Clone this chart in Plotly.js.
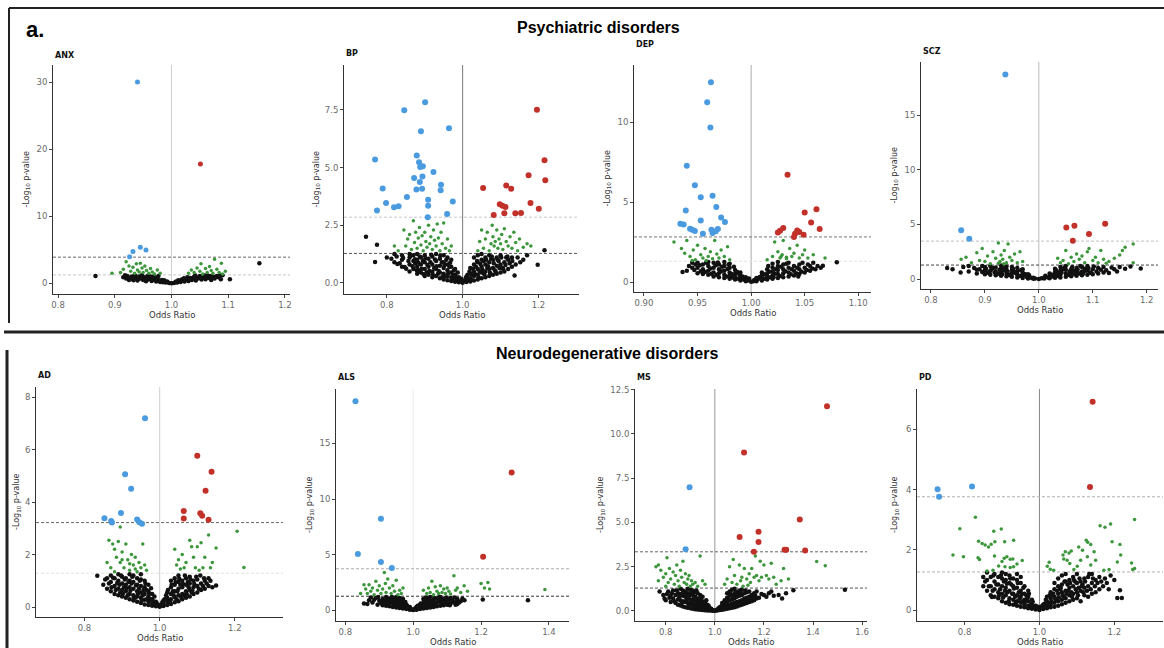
<!DOCTYPE html>
<html><head><meta charset="utf-8">
<script src="https://cdn.plot.ly/plotly-3.0.1.min.js"></script>
<style>html,body{margin:0;padding:0;background:#fff}#chart{width:1164px;height:648px}</style>
</head><body><div id="chart"></div>
<script>
// ---------------- DATA (odds ratio, -log10 p) ----------------
const panelNames = ['ANX','BP','DEP','SCZ','AD','ALS','MS','PD'];
const sectionTitles = ['Psychiatric disorders','Neurodegenerative disorders'];

// ANX
const anxBlue = [[0.94,30.05],[0.926,3.98],[0.932,4.73],[0.945,5.37],[0.955,4.98]];
const anxRed = [[1.051,17.8]];
const anxGreen = [[0.91,1.6],[0.915,2.1],[0.92,3.2],[0.925,2.6],[0.928,1.8],[0.932,2.4],[0.935,1.5],[0.938,2.9],[0.94,2.0],[0.943,1.7],[0.945,3.0],[0.948,2.3],[0.95,1.6],[0.953,2.6],[0.956,1.9],[0.96,1.5],[0.963,2.2],[0.966,1.7],[0.97,1.4],[0.975,2.0],[0.98,1.5],[0.895,1.5],
 [1.03,1.5],[1.035,2.0],[1.04,1.6],[1.045,2.3],[1.05,1.8],[1.052,2.9],[1.055,1.4],[1.06,2.2],[1.063,1.6],[1.067,2.5],[1.07,1.9],[1.073,1.5],[1.076,3.6],[1.08,2.1],[1.084,1.6],[1.088,3.0],[1.09,1.4],[1.095,1.8]];
const anxBlack = [[0.915,0.9],[0.92,0.7],[0.922,1.1],[0.925,0.5],[0.93,1.0],[0.932,0.6],[0.935,1.2],[0.938,0.8],[0.94,0.4],[0.943,1.0],[0.946,0.7],[0.948,1.2],[0.95,0.5],[0.953,0.9],[0.955,0.3],[0.958,1.1],[0.96,0.6],[0.963,0.8],[0.965,0.35],[0.968,1.0],[0.97,0.5],[0.973,0.25],[0.975,0.7],[0.978,0.4],[0.98,0.2],[0.983,0.5],[0.985,0.15],[0.988,0.3],[0.99,0.1],[0.993,0.2],[0.996,0.05],[1.0,0.02],[1.004,0.06],[1.007,0.15],[1.01,0.1],[1.013,0.3],[1.016,0.2],[1.02,0.4],[1.023,0.25],[1.026,0.6],[1.03,0.35],[1.033,0.8],[1.036,0.5],[1.04,1.0],[1.043,0.4],[1.046,0.7],[1.05,1.1],[1.053,0.55],[1.056,0.9],[1.06,0.6],[1.063,1.2],[1.066,0.8],[1.07,0.5],[1.073,1.0],[1.076,0.7],[1.08,1.1],[1.083,0.9],[1.087,0.6],[1.09,1.2],[0.866,1.1],[1.103,0.6],[1.155,3.0],
 [0.918,1.2],[0.928,0.85],[0.933,0.45],[0.937,1.05],[0.942,0.65],[0.947,0.95],[0.951,0.8],[0.957,0.55],[0.962,1.05],[0.967,0.6],[0.972,0.85],[0.977,1.1],[0.982,0.35],[0.987,0.45],[0.992,0.25],[1.008,0.25],[1.012,0.45],[1.018,0.55],[1.022,0.75],[1.028,0.9],[1.032,0.55],[1.038,0.75],[1.042,1.15],[1.048,0.9],[1.052,0.7],[1.058,1.15],[1.062,0.8],[1.068,1.1],[1.072,0.75],[1.078,0.95],[1.085,1.15]];
const anxXTicks = [0.8,0.9,1.0,1.1,1.2];
const anxYTicks = [0,10,20,30];

// BP
const bpBlue = [[0.901,7.83],[0.846,7.49],[0.890,6.58],[0.964,6.71],[0.769,5.35],[0.879,5.53],[0.885,5.23],[0.888,5.03],[0.895,5.06],[0.923,4.81],[0.872,4.55],[0.894,4.62],[0.887,4.38],[0.943,4.26],[0.789,4.10],[0.878,4.05],[0.893,4.08],[0.942,4.02],[0.853,3.73],[0.798,3.47],[0.819,3.28],[0.831,3.32],[0.909,3.61],[0.909,3.35],[0.974,3.53],[0.774,3.14],[0.959,2.99],[0.908,2.85]];
const bpRed = [[1.196,7.51],[1.216,5.32],[1.218,4.45],[1.174,4.67],[1.054,4.12],[1.115,4.22],[1.128,4.08],[1.098,3.41],[1.105,3.35],[1.113,3.29],[1.179,3.47],[1.201,3.22],[1.082,2.95],[1.110,3.02],[1.139,3.02],[1.154,3.03]];
const bpGreen = [[0.845,2.3],[0.85,1.6],[0.855,1.9],[0.86,2.1],[0.865,1.45],[0.87,2.7],[0.873,1.75],[0.876,2.2],[0.88,1.5],[0.883,1.95],[0.886,2.4],[0.89,1.65],[0.893,2.05],[0.896,1.4],[0.9,2.2],[0.903,1.8],[0.906,1.55],[0.91,2.5],[0.913,1.7],[0.916,2.0],[0.92,1.45],[0.923,2.3],[0.926,1.85],[0.93,1.6],[0.933,2.55],[0.936,1.95],[0.94,1.4],[0.943,2.2],[0.946,1.7],[0.95,2.6],[0.955,1.5],[0.96,1.9],[0.965,1.4],[0.97,1.6],[0.82,1.6],[0.83,1.4],
 [1.05,2.3],[1.055,1.5],[1.06,1.9],[1.065,2.2],[1.07,1.4],[1.075,1.7],[1.078,2.5],[1.08,2.0],[1.083,1.6],[1.086,1.8],[1.09,2.3],[1.093,1.5],[1.096,1.9],[1.1,1.7],[1.103,2.1],[1.106,1.45],[1.11,2.35],[1.115,1.8],[1.12,1.6],[1.125,2.0],[1.13,1.5],[1.135,2.2],[1.14,1.75],[1.145,1.4],[1.15,1.9],[1.16,1.55],[1.17,1.7],[1.18,1.6],[1.04,1.4],[1.045,1.8]];
const bpBlack = [[0.80,1.1],[0.82,0.9],[0.82,1.25],[0.84,0.7],[0.84,1.0],[0.84,1.2],[0.86,0.5],[0.86,0.8],[0.86,1.1],[0.86,1.25],[0.87,0.6],[0.87,0.95],[0.87,1.2],[0.88,0.4],[0.88,0.7],[0.88,1.0],[0.88,1.25],[0.89,0.45],[0.89,0.8],[0.89,1.1],[0.90,0.3],[0.90,0.6],[0.90,0.9],[0.90,1.2],[0.91,0.35],[0.91,0.7],[0.91,1.05],[0.92,0.25],[0.92,0.5],[0.92,0.8],[0.92,1.15],[0.93,0.3],[0.93,0.6],[0.93,0.95],[0.93,1.25],[0.94,0.2],[0.94,0.45],[0.94,0.75],[0.94,1.05],[0.95,0.15],[0.95,0.4],[0.95,0.65],[0.95,0.9],[0.95,1.2],[0.96,0.12],[0.96,0.3],[0.96,0.55],[0.96,0.8],[0.96,1.1],[0.97,0.08],[0.97,0.25],[0.97,0.45],[0.97,0.7],[0.97,1.0],[0.98,0.05],[0.98,0.18],[0.98,0.35],[0.98,0.6],[0.99,0.03],[0.99,0.12],[0.99,0.25],[1.00,0.01],[1.01,0.04],[1.01,0.12],[1.01,0.28],[1.02,0.06],[1.02,0.2],[1.02,0.4],[1.02,0.65],[1.03,0.1],[1.03,0.3],[1.03,0.5],[1.03,0.8],[1.03,1.1],[1.04,0.15],[1.04,0.35],[1.04,0.6],[1.04,0.9],[1.04,1.2],[1.05,0.2],[1.05,0.45],[1.05,0.7],[1.05,1.0],[1.05,1.25],[1.06,0.25],[1.06,0.5],[1.06,0.8],[1.06,1.1],[1.07,0.3],[1.07,0.6],[1.07,0.9],[1.07,1.2],[1.08,0.35],[1.08,0.65],[1.08,1.0],[1.09,0.4],[1.09,0.75],[1.09,1.1],[1.10,0.45],[1.10,0.8],[1.10,1.2],[1.11,0.5],[1.11,0.9],[1.12,0.6],[1.12,1.0],[1.13,0.7],[1.13,1.1],[1.14,0.8],[1.137,0.32],[1.16,1.0],[0.745,2.0],[0.774,1.66],[0.769,0.91],[0.828,0.82],[0.847,0.69],[1.216,1.42],[1.198,0.79],
 [0.875,0.85],[0.885,0.55],[0.895,0.95],[0.905,0.45],[0.915,0.9],[0.925,0.65],[0.935,0.4],[0.945,0.9],[0.955,0.28],[0.965,0.7],[0.975,0.35],[0.985,0.15],[1.015,0.18],[1.025,0.35],[1.035,0.7],[1.045,0.5],[1.055,0.95],[1.065,0.65],[1.075,1.05],[1.085,0.55],[1.095,0.95],[1.105,0.65],[1.115,1.1],
 [0.812,1.05],[0.826,1.15],[0.834,0.85],[0.843,1.08],[0.851,0.62],[0.857,0.95],[0.863,1.18],[0.868,0.72],[0.874,1.03],[0.879,0.55],[0.883,0.88],[0.887,1.15],[0.892,0.62],[0.897,0.38],[0.902,1.07],[0.907,0.78],[0.912,0.52],[0.917,1.22],[0.921,0.38],[0.927,1.02],[0.931,0.72],[0.937,0.52],[0.941,1.18],[0.947,0.28],[0.952,0.78],[0.957,1.0],[0.962,0.42],[0.967,0.88],[0.972,0.18],[0.977,0.55],[0.982,0.28],[0.987,0.45],[0.993,0.08],[0.996,0.18],[1.004,0.08],[1.008,0.2],[1.013,0.35],[1.018,0.5],[1.023,0.15],[1.027,0.62],[1.032,0.4],[1.038,0.95],[1.042,0.25],[1.047,0.82],[1.052,0.58],[1.057,0.38],[1.062,1.0],[1.067,0.72],[1.072,0.45],[1.077,1.15],[1.082,0.85],[1.087,0.5],[1.092,1.0],[1.097,0.65],[1.102,1.1],[1.107,0.6],[1.113,0.78],[1.118,1.15],[1.124,0.85],[1.131,0.95],[1.145,1.1],[1.152,0.9],[1.17,1.2]];
const bpXTicks = [0.8,1.0,1.2];
const bpYTicks = [0,2.5,5,7.5];

// DEP
const depBlue = [[0.9625,12.5],[0.959,11.25],[0.962,9.67],[0.940,7.27],[0.9475,6.06],[0.953,5.31],[0.964,5.40],[0.9675,4.69],[0.939,4.48],[0.972,4.04],[0.9756,3.75],[0.953,3.85],[0.934,3.65],[0.937,3.6],[0.943,3.33],[0.945,3.27],[0.9475,3.19],[0.955,3.02],[0.963,3.27],[0.964,3.06],[0.967,3.17],[0.969,3.31]];
const depRed = [[1.034,6.71],[1.061,4.56],[1.050,4.35],[1.056,3.73],[1.064,3.31],[1.030,3.38],[1.027,3.21],[1.025,3.1],[1.043,3.23],[1.045,3.13],[1.041,3.02],[1.049,2.96],[1.040,2.81]];
const depGreen = [[0.928,2.5],[0.935,2.1],[0.938,1.8],[0.94,2.6],[0.943,1.6],[0.946,2.0],[0.948,1.4],[0.95,2.3],[0.953,1.7],[0.955,1.5],[0.957,2.1],[0.96,1.6],[0.962,1.9],[0.964,1.45],[0.966,2.6],[0.968,1.75],[0.97,1.5],[0.972,2.0],[0.975,1.6],[0.978,2.2],[0.98,1.4],[0.945,1.35],[0.958,1.35],
 [1.015,1.4],[1.02,1.6],[1.022,2.5],[1.025,1.9],[1.027,1.5],[1.029,1.7],[1.03,2.6],[1.033,1.45],[1.036,2.1],[1.038,1.6],[1.04,1.8],[1.043,2.3],[1.045,1.5],[1.048,1.7],[1.05,2.0],[1.053,1.5],[1.058,1.7],[1.069,1.5],[1.033,1.55],[1.028,1.6]];
const depBlack = [[0.94,0.7],[0.936,0.63],[0.945,0.9],[0.945,1.2],[0.95,0.55],[0.95,0.9],[0.95,1.2],[0.955,0.5],[0.955,0.8],[0.955,1.1],[0.96,0.45],[0.96,0.7],[0.96,1.0],[0.96,1.25],[0.965,0.35],[0.965,0.6],[0.965,0.9],[0.965,1.2],[0.97,0.3],[0.97,0.55],[0.97,0.8],[0.97,1.1],[0.975,0.25],[0.975,0.45],[0.975,0.7],[0.975,1.0],[0.975,1.25],[0.98,0.2],[0.98,0.4],[0.98,0.6],[0.98,0.9],[0.98,1.15],[0.985,0.15],[0.985,0.3],[0.985,0.5],[0.985,0.75],[0.99,0.1],[0.99,0.25],[0.99,0.4],[0.99,0.6],[0.995,0.05],[0.995,0.15],[0.995,0.3],[1.0,0.02],[1.005,0.05],[1.005,0.15],[1.005,0.25],[1.01,0.1],[1.01,0.25],[1.01,0.4],[1.01,0.6],[1.015,0.15],[1.015,0.35],[1.015,0.55],[1.015,0.8],[1.02,0.2],[1.02,0.4],[1.02,0.65],[1.02,0.9],[1.02,1.15],[1.025,0.25],[1.025,0.5],[1.025,0.75],[1.025,1.0],[1.025,1.25],[1.03,0.3],[1.03,0.55],[1.03,0.8],[1.03,1.1],[1.035,0.35],[1.035,0.6],[1.035,0.9],[1.035,1.2],[1.04,0.4],[1.04,0.7],[1.04,1.0],[1.045,0.5],[1.045,0.8],[1.045,1.1],[1.05,0.6],[1.05,0.9],[1.055,0.7],[1.055,1.0],[1.06,0.8],[1.08,1.23],[1.067,1.02],[1.065,0.9],[1.044,0.35],
 [0.942,1.0],[0.947,0.75],[0.952,1.05],[0.957,0.62],[0.958,1.2],[0.962,0.85],[0.963,0.52],[0.967,1.05],[0.968,0.45],[0.972,0.68],[0.973,0.95],[0.977,0.35],[0.978,0.82],[0.979,1.1],[0.982,0.5],[0.983,0.28],[0.984,0.95],[0.987,0.62],[0.988,0.2],[0.989,0.45],[0.992,0.35],[0.993,0.15],[0.997,0.1],[0.998,0.22],[1.002,0.05],[1.003,0.12],[1.007,0.2],[1.008,0.32],[1.012,0.48],[1.013,0.2],[1.017,0.65],[1.018,0.3],[1.022,0.52],[1.023,0.8],[1.027,0.38],[1.028,0.95],[1.032,0.68],[1.033,1.15],[1.037,0.48],[1.038,0.8],[1.042,0.55],[1.043,0.9],[1.047,0.65],[1.048,1.2],[1.052,0.75],[1.053,1.1],[1.057,0.85],[1.062,1.0],[1.058,1.2],[0.948,1.1],[0.953,0.68],[0.969,1.22],[1.016,1.0],[1.021,0.3]];
const depXTicks = [0.90,0.95,1.00,1.05,1.10];
const depYTicks = [0,5,10];

// SCZ
const sczBlue = [[0.938,18.7],[0.856,4.47],[0.871,3.68]];
const sczRed = [[1.051,4.72],[1.066,4.87],[1.123,5.05],[1.093,4.11],[1.063,3.5]];
const sczGreen = [[0.856,1.8],[0.865,2.0],[0.875,1.5],[0.885,2.4],[0.89,1.7],[0.895,2.8],[0.9,1.6],[0.905,2.1],[0.91,1.4],[0.915,2.5],[0.92,1.9],[0.925,3.3],[0.928,1.6],[0.93,2.2],[0.933,1.8],[0.936,2.6],[0.94,1.5],[0.943,3.2],[0.946,2.0],[0.95,1.7],[0.955,2.3],[0.96,1.5],[0.965,2.5],[0.97,1.6],[0.935,1.4],[0.925,1.45],
 [1.035,1.9],[1.04,1.5],[1.045,1.7],[1.05,2.6],[1.055,1.4],[1.06,2.0],[1.065,1.6],[1.07,2.3],[1.075,1.8],[1.08,2.1],[1.085,1.5],[1.09,2.5],[1.093,2.8],[1.1,1.7],[1.105,2.0],[1.11,1.5],[1.115,2.6],[1.12,1.8],[1.13,1.6],[1.14,1.9],[1.15,2.2],[1.155,2.6],[1.16,2.9],[1.175,3.2],[1.175,1.5],[1.125,1.45]];
const sczBlack = [[0.83,1.0],[0.84,0.9],[0.855,0.6],[0.86,1.1],[0.87,0.7],[0.88,1.0],[0.885,0.5],[0.89,0.9],[0.895,1.2],[0.9,0.45],[0.9,0.8],[0.9,1.1],[0.91,0.4],[0.91,0.75],[0.91,1.2],[0.92,0.35],[0.92,0.7],[0.92,1.05],[0.93,0.3],[0.93,0.6],[0.93,0.95],[0.93,1.25],[0.94,0.25],[0.94,0.55],[0.94,0.85],[0.94,1.15],[0.95,0.2],[0.95,0.5],[0.95,0.8],[0.95,1.1],[0.96,0.15],[0.96,0.4],[0.96,0.7],[0.96,1.0],[0.97,0.1],[0.97,0.3],[0.97,0.6],[0.97,0.9],[0.98,0.06],[0.98,0.2],[0.98,0.45],[0.99,0.03],[0.99,0.12],[1.0,0.01],[1.01,0.04],[1.01,0.15],[1.02,0.08],[1.02,0.25],[1.02,0.5],[1.03,0.12],[1.03,0.35],[1.03,0.65],[1.03,0.95],[1.04,0.15],[1.04,0.4],[1.04,0.75],[1.04,1.1],[1.05,0.2],[1.05,0.5],[1.05,0.85],[1.05,1.2],[1.06,0.25],[1.06,0.55],[1.06,0.9],[1.07,0.3],[1.07,0.65],[1.07,1.0],[1.08,0.35],[1.08,0.7],[1.08,1.1],[1.09,0.4],[1.09,0.8],[1.09,1.2],[1.10,0.45],[1.10,0.9],[1.11,0.5],[1.11,1.0],[1.12,0.6],[1.12,1.1],[1.13,0.55],[1.14,0.9],[1.15,1.1],[1.189,0.97],[1.17,1.15],
 [0.905,0.6],[0.915,1.0],[0.925,0.5],[0.935,0.8],[0.945,0.4],[0.955,0.65],[0.965,0.3],[0.975,0.45],[1.025,0.4],[1.035,0.55],[1.045,0.9],[1.055,0.4],[1.065,0.75],[1.075,0.5],[1.085,0.95],[1.095,0.6],
 [0.87,1.2],[0.885,0.85],[0.895,0.65],[0.902,0.95],[0.908,0.55],[0.912,0.88],[0.918,0.6],[0.922,0.45],[0.927,0.85],[0.932,0.45],[0.937,1.05],[0.942,0.7],[0.947,0.35],[0.952,0.95],[0.957,0.55],[0.962,0.25],[0.967,0.8],[0.972,0.45],[0.977,0.2],[0.982,0.35],[0.987,0.1],[0.993,0.06],[1.005,0.08],[1.012,0.3],[1.017,0.15],[1.022,0.4],[1.027,0.22],[1.032,0.8],[1.037,0.25],[1.042,0.6],[1.047,1.0],[1.052,0.35],[1.057,0.7],[1.062,1.1],[1.067,0.45],[1.072,0.85],[1.077,1.2],[1.082,0.5],[1.087,0.75],[1.092,1.0],[1.097,0.55],[1.102,1.15],[1.107,0.7],[1.115,0.85],[1.125,0.8],[1.135,1.05],[1.145,0.7],[1.16,0.95]];
const sczXTicks = [0.8,0.9,1.0,1.1,1.2];
const sczYTicks = [0,5,10,15];

// AD
const adBlue = [[0.961,7.2],[0.908,5.06],[0.924,4.51],[0.897,3.59],[0.853,3.39],[0.871,3.28],[0.873,3.22],[0.940,3.34],[0.946,3.23],[0.953,3.18]];
const adRed = [[1.100,5.77],[1.138,5.16],[1.122,4.43],[1.064,3.66],[1.064,3.38],[1.108,3.58],[1.113,3.48],[1.130,3.33]];
const adGreen = [[0.895,3.05],[0.865,2.55],[0.875,2.4],[0.88,2.2],[0.885,1.9],[0.89,2.5],[0.895,1.7],[0.9,2.1],[0.905,1.5],[0.91,2.4],[0.915,1.8],[0.92,1.4],[0.925,2.0],[0.93,1.6],[0.935,1.9],[0.94,1.35],[0.945,1.7],[0.95,1.5],[0.955,2.4],[0.96,1.6],[0.965,1.4],[0.87,1.5],[0.86,1.7],[0.88,1.35],[0.9,1.8],[0.92,1.65],[0.935,1.45],
 [1.04,2.2],[1.045,1.6],[1.05,1.8],[1.055,1.45],[1.06,2.0],[1.065,1.5],[1.08,2.55],[1.085,2.3],[1.09,1.9],[1.095,1.5],[1.1,2.3],[1.11,2.45],[1.115,1.5],[1.12,1.9],[1.13,2.75],[1.135,1.5],[1.14,1.7],[1.15,2.25],[1.206,2.89],[1.224,1.51],[1.07,1.7],[1.105,1.4]];
const adBlack = [[0.85,0.85],[0.86,0.7],[0.86,1.1],[0.87,0.6],[0.87,0.95],[0.87,1.2],[0.88,0.5],[0.88,0.8],[0.88,1.1],[0.89,0.45],[0.89,0.7],[0.89,1.0],[0.89,1.25],[0.90,0.4],[0.90,0.65],[0.90,0.9],[0.90,1.15],[0.91,0.35],[0.91,0.6],[0.91,0.85],[0.91,1.1],[0.92,0.3],[0.92,0.5],[0.92,0.75],[0.92,1.0],[0.92,1.25],[0.93,0.25],[0.93,0.45],[0.93,0.7],[0.93,0.95],[0.93,1.2],[0.94,0.2],[0.94,0.4],[0.94,0.6],[0.94,0.85],[0.94,1.1],[0.95,0.15],[0.95,0.35],[0.95,0.55],[0.95,0.8],[0.95,1.05],[0.95,1.25],[0.96,0.1],[0.96,0.28],[0.96,0.5],[0.96,0.75],[0.96,1.0],[0.97,0.08],[0.97,0.22],[0.97,0.4],[0.97,0.6],[0.97,0.85],[0.98,0.05],[0.98,0.15],[0.98,0.3],[0.98,0.5],[0.99,0.03],[0.99,0.1],[0.99,0.2],[1.0,0.01],[1.0,0.08],[1.01,0.04],[1.01,0.12],[1.01,0.25],[1.02,0.08],[1.02,0.2],[1.02,0.35],[1.02,0.55],[1.03,0.12],[1.03,0.3],[1.03,0.5],[1.03,0.75],[1.03,1.0],[1.04,0.18],[1.04,0.38],[1.04,0.6],[1.04,0.85],[1.04,1.1],[1.05,0.22],[1.05,0.45],[1.05,0.7],[1.05,0.95],[1.05,1.2],[1.06,0.3],[1.06,0.5],[1.06,0.75],[1.06,1.0],[1.07,0.35],[1.07,0.6],[1.07,0.85],[1.07,1.1],[1.08,0.4],[1.08,0.65],[1.08,0.9],[1.08,1.15],[1.09,0.5],[1.09,0.75],[1.09,1.0],[1.10,0.55],[1.10,0.8],[1.10,1.05],[1.11,0.65],[1.11,0.9],[1.12,0.7],[1.12,1.0],[1.13,0.8],[1.15,0.82],[0.834,1.19],[1.13,1.1],
 [0.895,0.55],[0.905,0.75],[0.915,0.45],[0.925,0.9],[0.935,0.35],[0.945,0.7],[0.955,0.45],[0.965,0.65],[0.975,0.3],[1.025,0.25],[1.035,0.6],[1.045,0.3],[1.055,0.85],[1.065,0.45],[1.075,0.95],[1.085,0.55],
 [0.855,1.05],[0.865,0.9],[0.872,0.75],[0.876,1.12],[0.883,0.65],[0.887,0.92],[0.893,0.85],[0.897,1.2],[0.902,0.5],[0.907,1.05],[0.912,0.72],[0.917,0.95],[0.922,0.62],[0.927,1.15],[0.931,0.35],[0.937,0.82],[0.942,0.5],[0.947,1.0],[0.952,0.25],[0.957,0.65],[0.962,0.9],[0.967,0.32],[0.972,0.52],[0.977,0.72],[0.982,0.22],[0.986,0.4],[0.992,0.15],[0.996,0.06],[1.004,0.05],[1.007,0.18],[1.013,0.3],[1.017,0.45],[1.022,0.65],[1.027,0.2],[1.032,0.85],[1.037,0.45],[1.042,0.95],[1.047,0.6],[1.052,1.08],[1.057,0.38],[1.062,0.88],[1.067,1.2],[1.072,0.5],[1.077,0.75],[1.082,1.05],[1.087,0.62],[1.092,0.88],[1.097,1.15],[1.104,0.7],[1.108,1.2],[1.115,0.8],[1.118,1.1],[1.125,0.9],[1.135,1.0],[1.14,0.75]];
const adXTicks = [0.8,1.0,1.2];
const adYTicks = [0,2,4,6,8];

// ALS
const alsBlue = [[0.830,18.8],[0.905,8.22],[0.837,5.06],[0.905,4.34],[0.937,3.8]];
const alsRed = [[1.290,12.38],[1.206,4.82]];
const alsGreen = [[0.86,1.9],[0.865,1.5],[0.87,2.3],[0.875,1.7],[0.88,2.0],[0.885,1.4],[0.89,2.6],[0.895,1.8],[0.9,2.2],[0.905,1.5],[0.91,1.9],[0.915,3.4],[0.918,2.4],[0.92,1.6],[0.925,2.8],[0.93,2.0],[0.935,1.5],[0.94,2.2],[0.945,1.7],[0.95,2.7],[0.955,1.4],[0.96,1.8],[0.965,1.5],[0.97,2.0],[0.845,1.5],[0.855,2.3],
 [1.03,1.8],[1.04,1.5],[1.045,2.0],[1.05,1.6],[1.055,2.6],[1.06,1.4],[1.065,2.1],[1.07,1.7],[1.075,1.5],[1.08,2.2],[1.085,1.6],[1.09,1.9],[1.095,1.5],[1.1,2.0],[1.105,1.7],[1.11,1.45],[1.12,3.1],[1.125,1.8],[1.13,2.0],[1.14,1.6],[1.15,2.2],[1.16,1.7],[1.2,2.4],[1.21,2.0],[1.22,2.5],[1.225,1.9],[1.388,1.87]];
const alsBlack = [[0.855,0.6],[0.865,0.55],[0.87,0.9],[0.88,0.7],[0.89,1.1],[0.895,0.5],[0.9,0.85],[0.91,0.45],[0.91,1.0],[0.92,0.4],[0.92,0.8],[0.92,1.2],[0.93,0.35],[0.93,0.7],[0.93,1.05],[0.94,0.3],[0.94,0.6],[0.94,0.95],[0.95,0.25],[0.95,0.5],[0.95,0.85],[0.95,1.2],[0.96,0.2],[0.96,0.45],[0.96,0.75],[0.96,1.1],[0.97,0.15],[0.97,0.35],[0.97,0.65],[0.97,1.0],[0.98,0.1],[0.98,0.25],[0.98,0.5],[0.99,0.05],[0.99,0.15],[0.99,0.3],[1.0,0.02],[1.01,0.05],[1.01,0.15],[1.01,0.3],[1.02,0.1],[1.02,0.25],[1.02,0.5],[1.03,0.15],[1.03,0.35],[1.03,0.65],[1.03,1.0],[1.04,0.2],[1.04,0.45],[1.04,0.75],[1.04,1.1],[1.05,0.25],[1.05,0.5],[1.05,0.85],[1.05,1.2],[1.06,0.3],[1.06,0.6],[1.06,0.95],[1.07,0.35],[1.07,0.7],[1.07,1.05],[1.08,0.4],[1.08,0.8],[1.08,1.2],[1.09,0.45],[1.09,0.9],[1.10,0.5],[1.10,1.0],[1.11,0.6],[1.11,1.1],[1.12,0.7],[1.13,0.55],[1.13,1.0],[1.151,0.9],[1.205,0.96],[1.338,0.9],[1.14,0.8],
 [0.915,0.7],[0.925,0.55],[0.935,0.9],[0.945,0.45],[0.955,0.7],[0.965,0.3],[0.975,0.5],[1.025,0.4],[1.035,0.55],[1.045,0.35],[1.055,0.7],[1.065,0.45],[1.075,0.9],[1.085,0.6],[1.095,0.7],
 [0.875,1.15],[0.885,0.95],[0.897,1.2],[0.905,0.65],[0.912,0.85],[0.917,0.55],[0.923,1.0],[0.927,0.45],[0.933,0.85],[0.937,1.2],[0.942,0.75],[0.947,1.05],[0.952,0.4],[0.957,0.95],[0.962,0.6],[0.967,0.85],[0.972,0.25],[0.977,0.75],[0.982,0.4],[0.987,0.2],[0.993,0.1],[0.997,0.06],[1.004,0.08],[1.007,0.2],[1.013,0.4],[1.017,0.25],[1.022,0.6],[1.027,0.3],[1.032,0.85],[1.037,1.15],[1.042,0.6],[1.047,0.95],[1.052,0.4],[1.057,0.75],[1.062,1.1],[1.067,0.5],[1.072,0.9],[1.077,1.2],[1.082,0.6],[1.087,1.0],[1.092,0.7],[1.097,1.15],[1.103,0.8],[1.108,0.45],[1.115,0.9],[1.122,1.15],[1.127,0.8],[1.135,0.7],[1.145,1.05],[1.125,0.5]];
const alsXTicks = [0.8,1.0,1.2,1.4];
const alsYTicks = [0,5,10,15];

// MS
const msBlue = [[0.897,6.99],[0.881,3.49]];
const msRed = [[1.457,11.56],[1.119,8.95],[1.346,5.17],[1.178,4.47],[1.101,4.17],[1.178,3.89],[1.159,3.34],[1.284,3.46],[1.291,3.46],[1.368,3.42]];
const msGreen = [[0.76,2.5],[0.77,2.6],[0.78,2.3],[0.79,1.9],[0.8,2.1],[0.805,3.0],[0.81,1.6],[0.815,2.4],[0.82,1.8],[0.83,2.2],[0.835,1.5],[0.84,2.0],[0.845,2.6],[0.85,1.7],[0.855,1.4],[0.86,2.3],[0.865,1.9],[0.87,2.8],[0.875,1.6],[0.88,2.1],[0.885,1.5],[0.89,1.8],[0.895,2.0],[0.9,1.4],[0.905,1.7],[0.91,1.5],[0.92,1.6],[0.93,1.4],[0.94,3.1],[0.95,1.7],[0.96,1.5],[0.8,1.4],[0.77,1.7],
 [1.04,1.5],[1.05,1.8],[1.06,2.5],[1.07,1.6],[1.075,2.9],[1.08,2.0],[1.09,1.5],[1.1,2.6],[1.105,1.7],[1.11,1.9],[1.115,1.4],[1.12,2.4],[1.13,1.8],[1.14,2.1],[1.145,1.6],[1.15,2.4],[1.16,1.9],[1.17,2.0],[1.18,1.7],[1.185,2.8],[1.19,1.9],[1.2,2.6],[1.21,2.0],[1.22,1.8],[1.23,2.7],[1.24,1.9],[1.25,1.5],[1.27,1.7],[1.28,2.4],[1.3,1.8],[1.415,2.79],[1.45,2.55],[1.165,3.1],[1.135,1.45]];
const msBlack = [[0.79,0.9],[0.8,0.6],[0.81,1.1],[0.82,0.5],[0.82,0.85],[0.83,0.7],[0.83,1.15],[0.84,0.45],[0.84,0.9],[0.85,0.35],[0.85,0.65],[0.85,1.0],[0.86,0.3],[0.86,0.6],[0.86,0.95],[0.86,1.25],[0.87,0.25],[0.87,0.55],[0.87,0.85],[0.87,1.15],[0.88,0.2],[0.88,0.5],[0.88,0.8],[0.88,1.1],[0.89,0.18],[0.89,0.45],[0.89,0.7],[0.89,1.0],[0.89,1.25],[0.9,0.15],[0.9,0.4],[0.9,0.65],[0.9,0.95],[0.9,1.2],[0.91,0.12],[0.91,0.35],[0.91,0.6],[0.91,0.9],[0.91,1.15],[0.92,0.1],[0.92,0.3],[0.92,0.55],[0.92,0.8],[0.92,1.05],[0.93,0.08],[0.93,0.25],[0.93,0.45],[0.93,0.7],[0.93,1.0],[0.94,0.06],[0.94,0.2],[0.94,0.4],[0.94,0.65],[0.94,0.9],[0.95,0.05],[0.95,0.15],[0.95,0.35],[0.95,0.55],[0.95,0.8],[0.96,0.04],[0.96,0.12],[0.96,0.28],[0.96,0.45],[0.97,0.03],[0.97,0.1],[0.97,0.2],[0.97,0.35],[0.98,0.02],[0.98,0.08],[0.98,0.15],[0.99,0.01],[0.99,0.05],[1.0,0.01],[1.01,0.03],[1.01,0.08],[1.02,0.05],[1.02,0.12],[1.02,0.2],[1.03,0.07],[1.03,0.18],[1.03,0.3],[1.03,0.45],[1.04,0.1],[1.04,0.25],[1.04,0.4],[1.04,0.6],[1.05,0.12],[1.05,0.3],[1.05,0.5],[1.05,0.75],[1.05,1.0],[1.06,0.15],[1.06,0.35],[1.06,0.6],[1.06,0.85],[1.06,1.1],[1.07,0.18],[1.07,0.4],[1.07,0.65],[1.07,0.9],[1.07,1.2],[1.08,0.2],[1.08,0.45],[1.08,0.7],[1.08,0.95],[1.08,1.25],[1.09,0.25],[1.09,0.5],[1.09,0.8],[1.09,1.05],[1.10,0.3],[1.10,0.55],[1.10,0.85],[1.10,1.15],[1.11,0.35],[1.11,0.6],[1.11,0.9],[1.11,1.2],[1.12,0.4],[1.12,0.7],[1.12,1.0],[1.13,0.45],[1.13,0.75],[1.13,1.05],[1.14,0.5],[1.14,0.8],[1.14,1.1],[1.15,0.55],[1.15,0.9],[1.16,0.6],[1.16,1.0],[1.17,0.7],[1.17,1.1],[1.18,0.75],[1.2,0.9],[1.22,1.0],[1.24,0.85],[1.274,0.7],[1.32,1.17],[1.53,1.2],
 [0.775,1.1],[0.795,0.7],[0.805,0.95],[0.815,0.75],[0.825,1.0],[0.835,0.55],[0.845,1.15],[0.855,0.8],[0.865,0.45],[0.875,1.0],[0.885,0.65],[0.895,0.3],[0.895,0.85],[0.905,0.5],[0.905,1.05],[0.915,0.25],[0.915,0.75],[0.925,0.42],[0.925,1.15],[0.935,0.15],[0.935,0.58],[0.945,0.3],[0.945,0.8],[0.955,0.1],[0.955,0.45],[0.965,0.2],[0.965,0.6],[0.975,0.06],[0.975,0.28],[0.985,0.05],[0.985,0.12],[0.995,0.03],[1.005,0.04],[1.015,0.08],[1.015,0.15],[1.025,0.1],[1.025,0.25],[1.035,0.15],[1.035,0.38],[1.045,0.18],[1.045,0.5],[1.055,0.22],[1.055,0.65],[1.065,0.28],[1.065,0.95],[1.075,0.3],[1.075,0.78],[1.085,0.35],[1.085,1.1],[1.095,0.4],[1.095,0.9],[1.105,0.45],[1.105,1.0],[1.115,0.5],[1.125,0.55],[1.125,1.15],[1.135,0.6],[1.145,0.65],[1.155,0.75],[1.165,0.85],[1.19,0.95],[1.21,0.8],[1.23,1.1],[1.26,0.9],[1.29,1.0]];
const msXTicks = [0.8,1.0,1.2,1.4,1.6];
const msYTicks = [0,2.5,5,7.5,10,12.5];

// PD
const pdBlue = [[0.728,4.01],[0.732,3.76],[0.820,4.1]];
const pdRed = [[1.142,6.91],[1.135,4.08]];
const pdGreen = [[0.829,3.08],[0.7875,2.70],[0.878,2.62],[0.898,2.69],[0.8375,2.29],[0.847,2.21],[0.855,2.16],[0.864,2.10],[0.881,2.27],[0.871,2.19],[0.907,2.27],[0.931,2.32],[0.769,1.83],[0.797,1.77],[0.836,1.74],[0.840,1.68],[0.880,1.8],[0.906,1.72],[0.913,1.77],[0.900,1.62],[0.922,1.69],[0.929,1.7],[0.954,1.65],[0.891,1.47],[0.908,1.44],[0.922,1.42],[0.931,1.44],[0.940,1.53],[0.86,1.3],[0.876,1.33],
 [1.026,1.59],[1.021,1.46],[1.029,1.36],[1.038,1.33],[1.063,1.83],[1.069,1.94],[1.079,1.9],[1.085,1.96],[1.065,1.70],[1.074,1.66],[1.081,1.55],[1.092,1.35],[1.105,2.1],[1.115,1.99],[1.125,2.32],[1.129,2.25],[1.137,2.18],[1.146,1.94],[1.162,2.8],[1.175,2.75],[1.190,2.86],[1.194,2.27],[1.215,2.18],[1.254,3.01],[1.246,1.57],[1.254,1.38],[1.249,1.35],[1.217,1.83],[1.208,1.6],[1.172,1.33],[1.186,1.35],[1.110,1.66],[1.128,1.77],[1.150,1.66],[1.101,1.46],[1.137,1.5]];
const pdBlack = [[0.85,1.1],[0.85,0.8],[0.86,0.65],[0.86,1.0],[0.86,1.25],[0.87,0.5],[0.87,0.8],[0.87,1.1],[0.873,0.44],[0.88,0.45],[0.88,0.7],[0.88,0.95],[0.88,1.2],[0.89,0.4],[0.89,0.6],[0.89,0.85],[0.89,1.1],[0.9,0.3],[0.9,0.55],[0.9,0.8],[0.9,1.05],[0.9,1.25],[0.91,0.25],[0.91,0.5],[0.91,0.75],[0.91,1.0],[0.91,1.2],[0.92,0.2],[0.92,0.4],[0.92,0.65],[0.92,0.9],[0.92,1.15],[0.93,0.18],[0.93,0.35],[0.93,0.55],[0.93,0.8],[0.93,1.05],[0.94,0.15],[0.94,0.3],[0.94,0.5],[0.94,0.75],[0.94,1.0],[0.94,1.2],[0.95,0.12],[0.95,0.25],[0.95,0.45],[0.95,0.65],[0.95,0.9],[0.95,1.1],[0.96,0.1],[0.96,0.2],[0.96,0.35],[0.96,0.55],[0.96,0.8],[0.97,0.07],[0.97,0.15],[0.97,0.3],[0.97,0.45],[0.97,0.65],[0.98,0.05],[0.98,0.12],[0.98,0.22],[0.98,0.35],[0.99,0.03],[0.99,0.08],[0.99,0.15],[1.0,0.01],[1.0,0.05],[1.01,0.04],[1.01,0.1],[1.01,0.18],[1.02,0.07],[1.02,0.15],[1.02,0.3],[1.02,0.45],[1.03,0.1],[1.03,0.2],[1.03,0.4],[1.03,0.6],[1.04,0.12],[1.04,0.25],[1.04,0.45],[1.04,0.7],[1.04,0.9],[1.05,0.15],[1.05,0.3],[1.05,0.55],[1.05,0.8],[1.05,1.05],[1.06,0.2],[1.06,0.35],[1.06,0.6],[1.06,0.85],[1.06,1.15],[1.07,0.25],[1.07,0.4],[1.07,0.65],[1.07,0.95],[1.07,1.2],[1.08,0.3],[1.08,0.5],[1.08,0.75],[1.08,1.0],[1.09,0.35],[1.09,0.55],[1.09,0.8],[1.09,1.1],[1.10,0.4],[1.10,0.6],[1.10,0.9],[1.10,1.2],[1.11,0.3],[1.11,0.65],[1.11,0.95],[1.12,0.5],[1.12,0.75],[1.12,1.05],[1.13,0.45],[1.13,0.8],[1.13,1.1],[1.14,0.55],[1.14,0.9],[1.14,1.2],[1.15,0.6],[1.15,1.0],[1.16,0.7],[1.16,1.1],[1.17,0.8],[1.18,0.9],[1.19,1.15],[1.208,0.41],[1.22,0.41],[1.215,0.66],[1.2,1.0],
 [0.895,0.7],[0.905,0.95],[0.915,0.6],[0.925,0.85],[0.935,0.45],[0.945,0.6],[0.955,0.3],[0.965,0.5],[1.025,0.25],[1.035,0.5],[1.045,0.35],[1.055,0.7],[1.065,0.45],[1.075,0.85],[1.085,0.6],[1.095,0.95],[1.105,0.75],[1.115,0.85],
 [0.855,0.95],[0.865,0.8],[0.875,0.65],[0.877,1.15],[0.885,0.85],[0.892,0.5],[0.897,1.15],[0.903,0.42],[0.908,0.65],[0.913,0.88],[0.918,0.3],[0.922,1.05],[0.927,0.55],[0.932,0.72],[0.937,0.25],[0.942,0.9],[0.947,0.38],[0.952,0.55],[0.957,0.75],[0.962,0.28],[0.967,0.4],[0.972,0.55],[0.977,0.18],[0.982,0.28],[0.987,0.1],[0.993,0.06],[0.996,0.12],[1.004,0.08],[1.007,0.14],[1.013,0.22],[1.017,0.35],[1.022,0.2],[1.027,0.5],[1.032,0.3],[1.037,0.55],[1.042,0.38],[1.047,0.65],[1.052,0.42],[1.057,0.75],[1.062,0.5],[1.067,0.95],[1.072,0.55],[1.077,0.65],[1.082,0.9],[1.087,0.45],[1.092,1.0],[1.097,0.7],[1.103,0.5],[1.107,1.05],[1.113,0.8],[1.117,0.6],[1.122,0.95],[1.127,0.65],[1.133,1.2],[1.137,0.7],[1.143,1.05],[1.148,0.8],[1.155,0.9],[1.165,0.95],[1.175,1.05],[1.185,0.7]];
const pdXTicks = [0.8,1.0,1.2];
const pdYTicks = [0,2,4,6];

// ---------------- LAYOUT CONFIG ----------------
const W = 1164, H = 648;
const panels = [
 {name:panelNames[0], blk:anxBlack, grn:anxGreen, blu:anxBlue, red:anxRed, xt:anxXTicks, yt:anxYTicks, xf:'.1f', yf:'d',
  box:[53,290,65,294], xr:[0.791,1.209], yr:[-1.6,32.6], hl:[[3.9,'#6a6a6a'],[1.25,'#c8c8c8']], vl:'#cfcfcf', cs:5, ytx:27, tty:55},
 {name:panelNames[1], blk:bpBlack, grn:bpGreen, blu:bpBlue, red:bpRed, xt:bpXTicks, yt:bpYTicks, xf:'.1f', yf:'.1f',
  box:[344,579,65,294], xr:[0.687,1.307], yr:[-0.48,9.45], hl:[[2.85,'#c8c8c8'],[1.28,'#555']], vl:'#777', cs:6, ytx:317, tty:53},
 {name:panelNames[2], blk:depBlack, grn:depGreen, blu:depBlue, red:depRed, xt:depXTicks, yt:depYTicks, xf:'.2f', yf:'d',
  box:[634,871,65,292], xr:[0.8907,1.1119], yr:[-0.625,13.58], hl:[[2.82,'#777'],[1.3,'#e2e2e2']], vl:'#aaa', cs:6, ytx:607, tty:45},
 {name:panelNames[3], blk:sczBlack, grn:sczGreen, blu:sczBlue, red:sczRed, xt:sczXTicks, yt:sczYTicks, xf:'.1f', yf:'d',
  box:[921,1158,62,289], xr:[0.7815,1.221], yr:[-0.91,19.85], hl:[[3.47,'#c0c0c0'],[1.28,'#444']], vl:'#bbb', cs:6, ytx:895, tty:51},
 {name:panelNames[4], blk:adBlack, grn:adGreen, blu:adBlue, red:adRed, xt:adXTicks, yt:adYTicks, xf:'.1f', yf:'d',
  box:[36,283,387,617], xr:[0.671,1.328], yr:[-0.38,8.39], hl:[[3.22,'#666'],[1.29,'#e0e0e0']], vl:'#cfcfcf', cs:6, ytx:17, tty:375},
 {name:panelNames[5], blk:alsBlack, grn:alsGreen, blu:alsBlue, red:alsRed, xt:alsXTicks, yt:alsYTicks, xf:'.1f', yf:'d',
  box:[336,569,389,621], xr:[0.7726,1.459], yr:[-0.97,19.9], hl:[[3.73,'#aaa'],[1.26,'#333']], vl:'#ececec', cs:6, ytx:310, tty:377},
 {name:panelNames[6], blk:msBlack, grn:msGreen, blu:msBlue, red:msRed, xt:msXTicks, yt:msYTicks, xf:'.1f', yf:'.1f',
  box:[635,867,389,621], xr:[0.6747,1.62], yr:[-0.57,12.54], hl:[[3.34,'#666'],[1.29,'#555']], vl:'#999', cs:6, ytx:601, tty:377},
 {name:panelNames[7], blk:pdBlack, grn:pdGreen, blu:pdBlue, red:pdRed, xt:pdXTicks, yt:pdYTicks, xf:'.1f', yf:'d',
  box:[917,1163,389,621], xr:[0.673,1.33], yr:[-0.355,7.33], hl:[[3.76,'#b0b0b0'],[1.27,'#b0b0b0']], vl:'#888', cs:6, ytx:895, tty:377}
];

const COL = {black:'#111111', green:'#3c963c', blue:'#4a9ae0', red:'#c2302a'};
const FONT = 'DejaVu Sans, sans-serif';
const traces = [], shapes = [], annotations = [];
const layout = {width:W, height:H, margin:{l:0,r:0,t:0,b:0}, paper_bgcolor:'#fff', plot_bgcolor:'rgba(0,0,0,0)', showlegend:false};

const px = v => v / W, py = v => 1 - v / H;

panels.forEach((p, i) => {
  const s = i === 0 ? '' : String(i + 1);
  const xa = 'x' + s, ya = 'y' + s;
  const [L, R, T, B] = p.box;
  layout['xaxis' + s] = {domain:[px(L), px(R)], range:p.xr, anchor:ya, tickvals:p.xt, tickformat:p.xf,
    ticks:'outside', ticklen:3, tickcolor:'#444', showline:true, linecolor:'#333', linewidth:1,
    showgrid:false, zeroline:false, tickfont:{family:FONT, size:8.5, color:'#6a6a6a'}, fixedrange:true};
  layout['yaxis' + s] = {domain:[py(B), py(T)], range:p.yr, anchor:xa, tickvals:p.yt, tickformat:p.yf,
    ticks:'outside', ticklen:3, tickcolor:'#444', showline:true, linecolor:'#333', linewidth:1,
    showgrid:false, zeroline:false, tickfont:{family:FONT, size:8.5, color:'#6a6a6a'}, fixedrange:true};
  const mk = (arr, color, size) => ({type:'scatter', mode:'markers', x:arr.map(d => d[0]), y:arr.map(d => d[1]),
    xaxis:xa, yaxis:ya, marker:{color:color, size:size, line:{width:0}}, hoverinfo:'skip', cliponaxis:false});
  traces.push(mk(p.blk, COL.black, 4.5));
  traces.push(mk(p.grn, COL.green, 3.5));
  traces.push(mk(p.blu, COL.blue, p.cs));
  traces.push(mk(p.red, COL.red, p.cs));
  shapes.push({type:'line', layer:'below', xref:xa, yref:ya + ' domain', x0:1, x1:1, y0:0, y1:1, line:{color:p.vl, width:1}});
  p.hl.forEach(h => shapes.push({type:'line', layer:'below', xref:xa + ' domain', yref:ya, x0:0, x1:1, y0:h[0], y1:h[0],
    line:{color:h[1], width:1, dash:'3px,2px'}}));
  annotations.push({xref:'paper', yref:'paper', x:px(L), y:py(p.tty), xanchor:'left', yanchor:'middle', showarrow:false,
    text:'<b>' + p.name + '</b>', font:{family:FONT, size:8, color:'#111'}});
  annotations.push({xref:'paper', yref:'paper', x:px((L + R) / 2), y:py(B + 21), xanchor:'center', yanchor:'middle', showarrow:false,
    text:'Odds Ratio', font:{family:FONT, size:8.5, color:'#333'}});
  annotations.push({xref:'paper', yref:'paper', x:px(p.ytx), y:py((T + B) / 2), xanchor:'center', yanchor:'middle', showarrow:false,
    textangle:-90, text:'-Log<sub>10</sub> p-value', font:{family:FONT, size:8, color:'#333'}});
});

// section titles and panel label
annotations.push({xref:'paper', yref:'paper', x:px(598), y:py(28), xanchor:'center', yanchor:'middle', showarrow:false,
  text:'<b>' + sectionTitles[0] + '</b>', font:{family:'Liberation Sans, Arial, sans-serif', size:16, color:'#000'}});
annotations.push({xref:'paper', yref:'paper', x:px(607), y:py(353), xanchor:'center', yanchor:'middle', showarrow:false,
  text:'<b>' + sectionTitles[1] + '</b>', font:{family:'Liberation Sans, Arial, sans-serif', size:16, color:'#000'}});
annotations.push({xref:'paper', yref:'paper', x:px(24), y:py(30), xanchor:'left', yanchor:'middle', showarrow:false,
  text:'<b>a.</b>', font:{family:'Liberation Sans, Arial, sans-serif', size:22, color:'#000'}});

// frames
const fr = (x0, y0, x1, y1, w) => shapes.push({type:'line', xref:'paper', yref:'paper', x0:px(x0), y0:py(y0), x1:px(x1), y1:py(y1), line:{color:'#222', width:w}});
fr(9, 8, 1164, 8, 2);
fr(9, 8, 9, 323, 2);
fr(4, 332, 1164, 332, 3);
fr(7, 350, 7, 648, 3);

layout.shapes = shapes;
layout.annotations = annotations;
Plotly.newPlot('chart', traces, layout, {staticPlot:true, displayModeBar:false});
</script>
</body></html>
